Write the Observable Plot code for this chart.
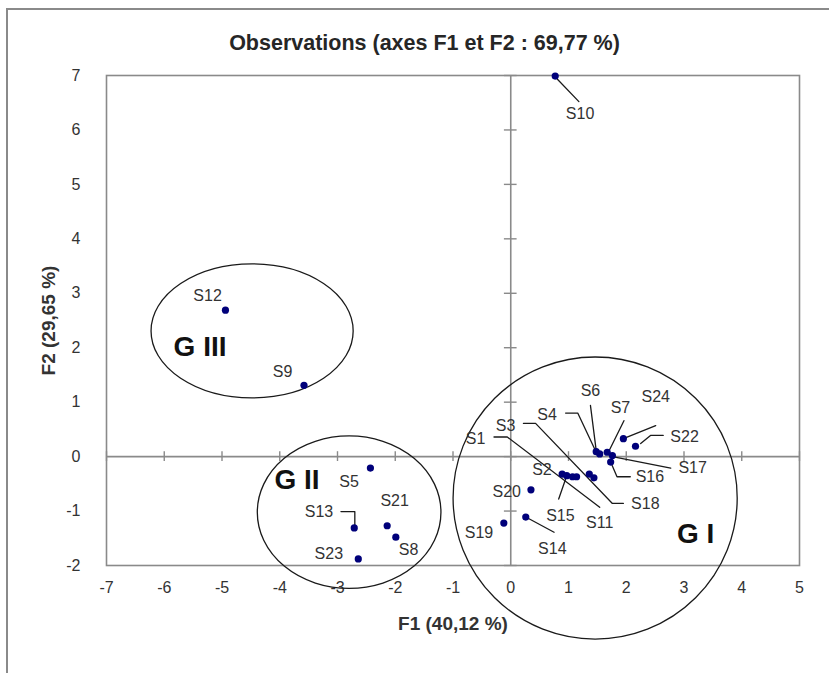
<!DOCTYPE html>
<html>
<head>
<meta charset="utf-8">
<script src="https://cdn.jsdelivr.net/npm/d3@7"></script>
<script src="https://cdn.jsdelivr.net/npm/@observablehq/plot@0.6"></script>
<style>
  body { margin: 0; background: #fff; }
  #wrap { position: relative; width: 829px; height: 673px; overflow: hidden; background: #fff; }
  #border { position: absolute; left: 6px; top: 8px; width: 900px; height: 800px; border-left: 2px solid #8a8a8a; border-top: 2px solid #8a8a8a; }
  #title { position: absolute; left: 0; top: 31px; width: 849px; text-align: center;
           font-family: "Liberation Sans", Arial, sans-serif;
           font-weight: bold; font-size: 21.5px; line-height: 24px; color: #262626; }
  #chart { position: absolute; left: 0; top: 0; }
  #chart g[aria-label$="tick label"] text { font-size: 16px !important; }
</style>
</head>
<body>
<div id="wrap">
  <div id="border"></div>
  <div id="chart"></div>
  <div id="title">Observations (axes F1 et F2 : 69,77 %)</div>
</div>
<script>
// Observations (coordinates on F1 and F2)
const names = ["S1","S2","S3","S4","S5","S6","S7","S8","S9","S10","S11","S12",
               "S13","S14","S15","S16","S17","S18","S19","S20","S21","S22","S23","S24"];
const f1 = [1.07, 0.89, 1.36, 1.54, -2.43, 1.48, 1.67, -1.99, -3.58, 0.77, 1.14, -4.94,
            -2.71, 0.26, 0.97, 1.73, 1.76, 1.44, -0.12, 0.35, -2.14, 2.16, -2.64, 1.95];
const f2 = [-0.37, -0.32, -0.32, 0.05, -0.21, 0.09, 0.08, -1.48, 1.31, 6.99, -0.37, 2.69,
            -1.31, -1.11, -0.35, -0.10, 0.02, -0.39, -1.22, -0.61, -1.27, 0.19, -1.88, 0.33];
// label anchor positions (data units)
const labelF1 = [-0.61, 0.54, -0.09, 0.63, -2.80, 1.38, 1.90, -1.77, -3.95, 1.20, 1.54, -5.25,
                 -3.32, 0.72, 0.86, 2.41, 3.15, 2.33, -0.55, -0.07, -2.01, 3.01, -3.15, 2.51];
const labelF2 = [0.33, -0.24, 0.57, 0.76, -0.47, 1.20, 0.90, -1.71, 1.56, 6.30, -1.22, 2.96,
                 -1.01, -1.69, -1.08, -0.38, -0.21, -0.86, -1.40, -0.64, -0.82, 0.37, -1.79, 1.10];
// leader lines (data units)
const leaders = [
  ["S10", [[0.80, 6.94], [1.18, 6.52]]],
  ["S1",  [[-0.29, 0.36], [-0.06, 0.36], [1.54, -0.93]]],
  ["S3",  [[0.22, 0.61], [0.43, 0.61], [1.76, -0.86], [1.95, -0.86]]],
  ["S4",  [[0.95, 0.80], [1.16, 0.80], [1.48, 0.08]]],
  ["S6",  [[1.38, 0.94], [1.48, 0.11]]],
  ["S7",  [[1.96, 0.66], [1.69, 0.08]]],
  ["S24", [[1.95, 0.33], [2.51, 0.57]]],
  ["S22", [[2.25, 0.24], [2.42, 0.39], [2.64, 0.39]]],
  ["S17", [[1.76, 0.00], [2.77, -0.21]]],
  ["S16", [[1.73, -0.10], [1.84, -0.37], [2.07, -0.37]]],
  ["S15", [[0.97, -0.35], [0.83, -0.78]]],
  ["S14", [[0.26, -1.11], [0.75, -1.39]]],
  ["S13", [[-2.94, -1.01], [-2.70, -1.01], [-2.70, -1.27]]]
];
// groups (ellipses)
const groupNames = ["G I", "G II", "G III"];
const groupCx = [1.47, -2.79, -4.47];
const groupCy = [-0.77, -1.03, 2.30];
const groupRx = [2.46, 1.59, 1.75];
const groupRy = [2.59, 1.40, 1.23];
const groupLabelF1 = [3.20, -3.70, -5.38];
const groupLabelF2 = [-1.42, -0.43, 2.02];

const xTicks = [-7, -6, -5, -4, -3, -2, -1, 0, 1, 2, 3, 4, 5];
const yTicks = [-2, -1, 0, 1, 2, 3, 4, 5, 6, 7];

const obs = names.map((n, i) => ({name: n, f1: f1[i], f2: f2[i], lx: labelF1[i], ly: labelF2[i]}));
const leaderPts = leaders.flatMap(([n, pts]) => pts.map(([x, y]) => ({name: n, x, y})));
const groups = groupNames.map((n, i) => ({name: n, cx: groupCx[i], cy: groupCy[i], rx: groupRx[i], ry: groupRy[i], lx: groupLabelF1[i], ly: groupLabelF2[i]}));

const font = '"Liberation Sans", Arial, sans-serif';
const gray = "#8a8a8a";

function ellipseMark(index, scales) {
  const g = d3.create("svg:g");
  for (const e of groups) {
    const cx = scales.x(e.cx), cy = scales.y(e.cy);
    g.append("ellipse")
      .attr("cx", cx).attr("cy", cy)
      .attr("rx", Math.abs(scales.x(e.cx + e.rx) - cx))
      .attr("ry", Math.abs(scales.y(e.cy + e.ry) - cy))
      .attr("fill", "none").attr("stroke", "#1a1a1a").attr("stroke-width", 1.3);
  }
  return g.node();
}

const hasAxisMarks = typeof Plot.axisX === "function";
const axisMarks = hasAxisMarks ? [
  Plot.axisX(xTicks, {tickSize: 0, tickPadding: 16, label: null, fontSize: 16, fill: "#333", tickFormat: d => String(d)}),
  Plot.axisY(yTicks, {tickSize: 0, tickPadding: 26, label: null, fontSize: 16, fill: "#333", tickFormat: d => String(d)})
] : [];

const plot = Plot.plot({
  width: 829,
  height: 673,
  marginLeft: 106,
  marginRight: 30,
  marginTop: 75,
  marginBottom: 108,
  style: {fontFamily: font, fontSize: "16px", color: "#333", background: "transparent", overflow: "visible"},
  x: {domain: [-7, 5], ticks: xTicks, tickSize: 0, tickPadding: 16, label: null, tickFormat: d => String(d), axis: hasAxisMarks ? null : "bottom"},
  y: {domain: [-2, 7], ticks: yTicks, tickSize: 0, tickPadding: 26, label: null, tickFormat: d => String(d), axis: hasAxisMarks ? null : "left"},
  marks: [
    ...axisMarks,
    Plot.frame({stroke: gray, strokeWidth: 1.6}),
    Plot.ruleX([0], {stroke: gray, strokeWidth: 1.6}),
    Plot.ruleY([0], {stroke: gray, strokeWidth: 1.6}),
    Plot.ruleX(xTicks, {x: d => d, y1: -0.09, y2: 0.09, stroke: gray, strokeWidth: 1.4}),
    Plot.ruleY(yTicks, {y: d => d, x1: -0.11, x2: 0.11, stroke: gray, strokeWidth: 1.4}),
    ellipseMark,
    Plot.line(leaderPts, {x: "x", y: "y", z: "name", stroke: "#1a1a1a", strokeWidth: 1.3}),
    Plot.dot(obs, {x: "f1", y: "f2", r: 3.6, fill: "#00007a", stroke: "none"}),
    Plot.text(obs, {x: "lx", y: "ly", text: "name", fontSize: 16, fill: "#333"}),
    Plot.text(groups, {x: "lx", y: "ly", text: "name", fontSize: 28, fontWeight: "bold", fill: "#111"}),
    Plot.text(["F1 (40,12 %)"], {frameAnchor: "bottom", dy: 64, text: d => d, fontSize: 19,
                                 fontWeight: "bold", fill: "#333", textAnchor: "middle", lineAnchor: "bottom"}),
    Plot.text(["F2 (29,65 %)"], {frameAnchor: "left", dx: -58, rotate: -90, text: d => d, fontSize: 19,
                                 fontWeight: "bold", fill: "#333", textAnchor: "middle", lineAnchor: "middle"})
  ]
});
document.getElementById("chart").appendChild(plot);
</script>
</body>
</html>
